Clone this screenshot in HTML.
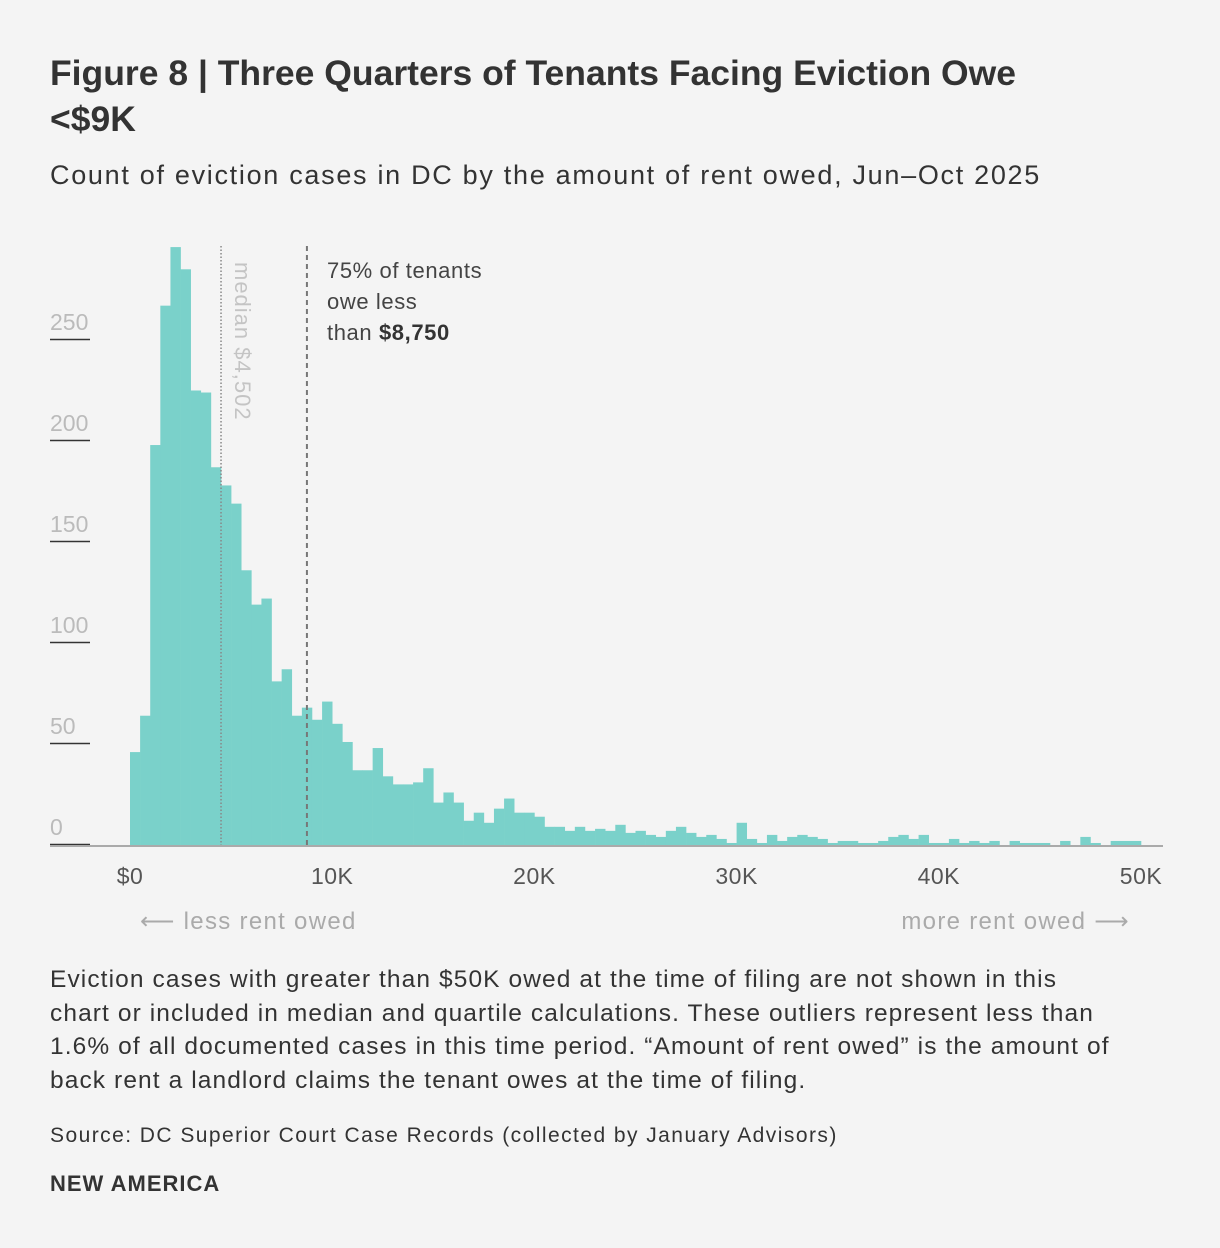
<!DOCTYPE html>
<html><head><meta charset="utf-8"><style>
body{margin:0;background:#f4f4f4;width:1220px;height:1248px;overflow:hidden;font-family:"Liberation Sans",sans-serif;color:#333}
.t{position:absolute;left:50px;margin:0}
</style></head><body>
<h1 class="t" style="top:50px;width:1050px;font-size:35.5px;line-height:46px;font-weight:bold;color:#333">Figure 8 | Three Quarters of Tenants Facing Eviction Owe &lt;$9K</h1>
<div class="t" style="top:160px;font-size:27px;letter-spacing:1.7px;color:#333">Count of eviction cases in DC by the amount of rent owed, Jun–Oct 2025</div>
<svg id="chart" width="1220" height="950" style="position:absolute;left:0;top:0" font-family="Liberation Sans, sans-serif"></svg>
<div class="t" style="top:963px;width:1065px;font-size:24.5px;letter-spacing:1.1px;line-height:33.5px;color:#333">Eviction cases with greater than $50K owed at the time of filing are not shown in this chart or included in median and quartile calculations. These outliers represent less than 1.6% of all documented cases in this time period. “Amount of rent owed” is the amount of back rent a landlord claims the tenant owes at the time of filing.</div>
<div class="t" style="top:1124px;font-size:21px;letter-spacing:1.45px;color:#333">Source: DC Superior Court Case Records (collected by January Advisors)</div>
<div class="t" style="top:1171px;font-size:22px;letter-spacing:1px;font-weight:bold;color:#333">NEW AMERICA</div>
<script>
const counts=[46,64,198,267,296,285,225,224,187,178,169,136,119,122,81,87,64,68,62,71,60,51,37,37,48,34,30,30,31,38,21,26,21,12,16,11,18,23,16,16,14,9,9,7,9,7,8,7,10,6,7,5,4,7,9,6,4,5,3,1,11,3,1,5,2,4,5,4,3,1,2,2,1,1,2,4,5,3,5,1,1,3,1,2,1,2,0,2,1,1,1,0,2,0,4,1,0,2,2,2];
const binWidth=500;
const yTicks=[0,50,100,150,200,250];
const xTicks=[0,10000,20000,30000,40000,50000];
const xTickLabels=["$0","10K","20K","30K","40K","50K"];
const median=4502, q3=8750;
const NS="http://www.w3.org/2000/svg";
const svg=document.getElementById('chart');
const x=v=>130+v/50000*1011;
const y=v=>845-v*2.02;
function mk(t,a){const e=document.createElementNS(NS,t);for(const k in a)e.setAttribute(k,a[k]);svg.appendChild(e);return e;}
yTicks.forEach(v=>{
  const l=mk('line',{x1:50,x2:90,y1:y(v)-0.5,y2:y(v)-0.5,stroke:'#333','stroke-width':1.5});
  
  
  const t=mk('text',{x:50,y:y(v)-10,'font-size':23,fill:'#bbb'});t.textContent=v;
  
  
});
counts.forEach((c,i)=>{
  const x0=x(i*binWidth),x1=x((i+1)*binWidth);
  const r=mk('rect',{x:x0,y:y(c),width:x1-x0+0.3,height:845-y(c),fill:'#7ad1ca'});
  
  
});
const ax=mk('line',{x1:50,x2:1163,y1:846,y2:846,stroke:'#aaa','stroke-width':2});


const ml=mk('line',{x1:x(median),x2:x(median),y1:246,y2:845,stroke:'#888','stroke-width':1.5,'stroke-dasharray':'1.5,2'});


const mt=mk('text',{x:0,y:0,'font-size':22,'letter-spacing':1,fill:'#c4c4c4',transform:`translate(${x(median)+14},262) rotate(90)`});mt.textContent='median $4,502';


const ql=mk('line',{x1:x(q3),x2:x(q3),y1:246,y2:845,stroke:'#777','stroke-width':2,'stroke-dasharray':'5,4'});


const qt=mk('text',{x:327,y:278,'font-size':22,'letter-spacing':0.6,fill:'#444'});
qt.innerHTML='<tspan x="327">75% of tenants</tspan><tspan x="327" dy="31">owe less</tspan><tspan x="327" dy="31">than <tspan font-weight="bold" fill="#333">$8,750</tspan></tspan>';


xTicks.forEach((v,i)=>{
  const t=mk('text',{x:x(v),y:884,'font-size':23,'letter-spacing':0.5,fill:'#555','text-anchor':'middle'});t.textContent=xTickLabels[i];
  
  
});
const l1=mk('text',{x:140,y:929,'font-size':24,'letter-spacing':1.3,fill:'#aaa'});l1.textContent='⟵ less rent owed';


const l2=mk('text',{x:1130,y:929,'font-size':24,'letter-spacing':1.3,fill:'#aaa','text-anchor':'end'});l2.textContent='more rent owed ⟶';


</script>
</body></html>
